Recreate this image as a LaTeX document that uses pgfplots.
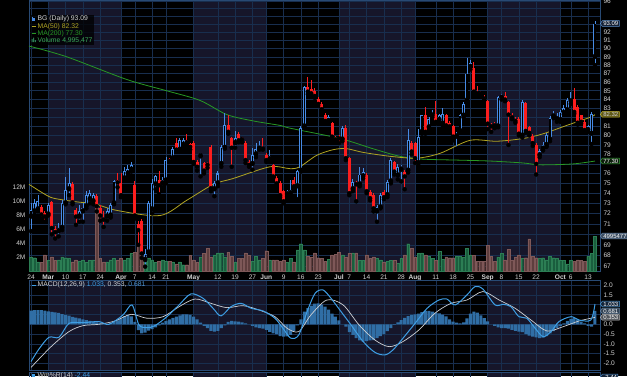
\documentclass[border=0pt]{standalone}
\usepackage{pgfplots}
\pgfplotsset{compat=1.18}
\usepackage{pgfplotstable}
\usepackage{fontspec}
\setmainfont{Liberation Sans}
\usetikzlibrary{shapes.symbols}

\definecolor{bgband}{RGB}{22,22,42}
\definecolor{gridc}{RGB}{24,46,78}
\definecolor{framec}{RGB}{40,74,116}
\definecolor{txt}{RGB}{210,210,210}
\definecolor{upc}{RGB}{70,138,228}
\definecolor{dnc}{RGB}{252,30,30}
\definecolor{volup}{RGB}{26,94,62}
\definecolor{volupe}{RGB}{44,126,84}
\definecolor{voldn}{RGB}{94,62,62}
\definecolor{voldne}{RGB}{126,88,88}
\definecolor{ma50c}{RGB}{176,164,34}
\definecolor{ma200c}{RGB}{40,152,36}
\definecolor{macdc}{RGB}{62,158,228}
\definecolor{sigc}{RGB}{205,208,212}
\definecolor{histc}{RGB}{48,110,165}
\definecolor{histl}{RGB}{80,150,210}

\pgfplotstableread{
i o h l c v
0 71.7 73.0 70.3 72.3 2.0
1 72.2 73.4 71.9 73.0 1.9
2 72.4 73.8 72.2 73.2 1.3
5 71.9 73.0 71.8 72.8 1.5
8 70.3 71.1 69.8 70.6 1.6
9 70.6 73.3 70.4 73.0 2.0
10 73.0 75.6 72.9 74.3 1.9
11 74.4 76.6 73.8 75.0 1.8
14 71.7 72.8 71.2 72.2 1.4
15 72.2 73.0 71.2 72.5 1.6
16 72.7 74.2 72.5 73.8 1.2
17 73.4 74.3 73.0 74.0 1.5
18 73.2 74.0 72.9 73.8 1.6
22 71.7 72.5 71.3 72.2 1.3
23 71.8 73.0 71.6 72.8 1.6
24 73.0 75.3 72.9 75.2 1.8
27 75.5 76.7 75.3 76.3 1.6
28 76.0 76.9 75.7 76.5 1.8
29 76.4 77.2 76.2 76.9 2.5
33 67.6 68.6 67.0 68.2 1.8
34 68.3 73.2 68.0 73.0 1.9
35 72.4 75.4 72.0 75.0 1.6
36 74.9 75.9 74.4 75.7 1.2
38 75.0 75.6 74.6 75.3 1.6
39 75.3 77.7 75.0 77.4 1.4
41 77.6 78.8 77.4 78.6 1.3
43 78.5 79.7 78.3 79.5 1.3
44 79.0 79.7 78.8 79.5 0.9
49 77.8 78.1 75.7 77.9 2.0
53 74.4 75.2 73.7 75.0 2.3
54 75.0 76.3 74.7 76.0 2.6
55 77.0 79.0 76.7 78.8 2.6
56 78.7 82.5 78.6 81.1 2.0
59 79.2 80.5 78.7 79.7 1.3
64 77.0 78.7 76.4 77.9 1.4
65 78.0 79.2 77.7 78.6 2.1
66 78.6 79.4 78.5 78.8 1.6
69 77.5 78.5 77.2 77.8 1.6
74 73.9 74.3 73.7 74.2 1.2
75 74.0 75.3 73.8 74.3 1.8
77 74.7 76.4 73.4 76.3 3.0
78 76.3 81.0 76.2 80.8 3.9
79 81.0 85.6 80.8 85.4 3.0
86 81.6 82.2 81.5 82.0 1.7
90 79.6 81.0 79.4 80.8 2.3
93 74.4 75.4 74.2 75.1 2.6
95 74.9 76.7 74.7 75.9 1.5
96 75.7 76.6 75.5 76.2 1.5
100 72.2 72.8 71.2 72.6 1.8
101 72.6 74.0 72.5 73.8 1.6
103 73.8 75.3 73.6 75.1 1.4
104 75.2 77.6 75.0 77.4 1.5
106 75.8 77.0 75.4 76.7 1.1
107 76.4 76.9 75.2 76.7 1.8
109 76.3 80.7 76.1 79.5 3.9
112 77.1 80.7 76.8 79.9 2.5
113 80.4 82.3 80.2 82.2 2.6
115 80.9 82.0 80.6 81.8 2.1
116 82.2 82.8 82.0 82.5 1.8
118 81.7 82.4 81.5 82.2 2.8
119 81.3 83.0 81.1 82.4 1.7
123 79.9 80.4 78.6 80.2 2.1
124 80.5 82.4 80.3 82.2 2.1
125 82.2 83.7 82.0 83.5 2.0
126 83.9 88.8 83.7 87.0 3.2
127 87.8 88.6 87.5 88.2 2.3
135 81.0 84.4 80.9 84.3 2.0
136 84.2 84.6 84.0 84.3 2.5
142 80.0 83.9 79.8 83.7 1.8
147 77.9 78.6 77.7 78.4 1.8
148 78.6 79.3 78.4 79.0 1.9
149 79.0 80.3 78.8 80.1 1.6
150 79.6 82.1 79.4 81.9 2.1
151 82.1 82.7 81.9 82.4 1.9
152 81.8 82.5 81.5 82.0 1.8
153 81.7 82.8 81.5 82.6 1.5
154 82.5 83.4 82.3 83.0 1.5
155 82.8 84.2 82.6 83.9 1.0
156 83.8 84.8 83.5 84.1 1.5
161 80.6 81.2 80.4 81.0 2.1
162 80.2 82.6 79.1 82.4 2.5
163 89.0 93.4 88.0 93.09 4.995
}\upT

\pgfplotstableread{
i o h l c v
3 72.6 72.8 71.5 71.9 1.2
4 72.0 72.2 71.2 71.7 2.3
6 73.1 73.2 70.0 70.6 2.0
7 70.5 70.8 69.6 70.2 1.5
12 74.9 75.1 72.9 73.1 1.3
13 72.3 72.5 70.9 71.7 1.6
19 73.7 73.9 72.2 72.7 9.1
20 72.5 72.8 71.3 71.8 1.8
21 71.5 72.2 70.7 71.4 1.3
25 75.3 76.0 74.6 75.1 1.5
26 75.0 76.0 73.6 73.8 1.8
30 74.8 75.2 71.5 71.8 2.7
31 71.0 71.3 69.0 70.4 3.9
32 71.3 71.5 67.8 68.2 2.1
37 75.3 76.3 73.9 74.8 1.4
40 77.5 77.6 77.2 77.3 1.4
42 79.2 79.7 78.3 78.5 1.0
45 79.5 80.2 79.0 79.3 0.9
46 79.1 79.2 78.5 78.8 2.2
47 79.2 79.4 77.0 77.2 1.6
48 77.2 77.4 76.3 76.7 1.2
50 77.1 77.2 76.0 76.3 2.5
51 77.0 77.2 76.6 76.9 3.2
52 78.8 79.0 74.2 74.5 2.0
57 81.1 82.2 80.2 80.4 2.7
58 79.7 79.9 76.7 78.7 2.1
60 80.2 80.4 79.3 79.5 1.8
61 79.8 79.9 79.3 79.6 1.8
62 79.2 79.4 77.1 77.4 2.6
63 77.2 77.4 76.7 76.9 2.2
67 78.8 79.7 78.5 78.6 1.8
68 77.9 78.1 77.2 77.4 2.9
70 76.9 77.0 75.5 75.7 1.6
71 75.5 75.7 74.8 75.0 1.6
72 75.0 75.2 73.6 73.8 1.4
73 74.2 74.3 73.0 73.2 1.6
76 75.3 75.6 74.5 74.7 1.3
80 85.4 86.6 84.6 84.9 2.1
81 85.2 86.2 84.5 84.7 2.0
82 85.0 85.3 84.2 84.4 2.6
83 84.1 84.3 83.3 83.5 1.9
84 83.5 83.7 82.6 82.9 1.8
85 82.3 82.5 81.3 81.6 1.4
87 81.4 81.5 79.6 79.9 2.3
88 79.8 80.0 79.3 79.6 2.4
89 79.8 80.1 79.2 79.7 2.7
91 80.8 81.1 77.4 77.6 2.0
92 77.6 77.7 73.8 74.0 2.5
94 75.0 75.2 73.2 74.9 2.6
97 75.9 76.0 74.0 74.2 2.3
98 74.1 74.3 73.3 73.5 1.8
99 73.8 74.0 72.2 72.5 2.0
102 74.1 74.3 73.4 73.6 1.3
105 77.2 77.3 75.9 76.2 1.5
108 76.2 76.4 74.4 75.7 2.3
110 79.2 79.4 78.0 78.3 3.2
111 79.2 79.3 77.1 77.6 2.0
114 82.2 83.2 80.2 80.4 2.3
117 82.4 83.8 81.3 81.5 1.5
120 82.2 82.4 80.9 81.1 2.0
121 81.4 81.6 80.8 81.0 1.9
122 81.0 81.1 79.5 79.9 1.9
128 87.6 88.4 84.7 84.9 2.2
129 84.8 85.5 84.4 84.7 1.4
130 84.9 85.0 84.4 84.7 1.4
131 84.3 84.5 83.9 84.1 1.4
132 83.8 84.0 80.7 81.3 3.7
133 81.2 81.4 80.4 81.0 2.1
134 81.3 81.5 80.8 81.1 1.4
137 84.4 84.8 83.8 84.0 1.6
138 83.7 83.8 79.0 82.3 3.1
139 82.2 82.5 81.8 82.0 1.5
140 81.8 82.0 81.4 81.6 2.0
141 81.8 82.0 80.0 80.2 2.3
143 83.6 83.7 80.3 80.5 1.9
144 80.9 81.0 80.0 80.3 4.6
145 80.0 80.2 78.9 79.2 2.1
146 79.0 79.2 75.9 77.0 1.9
157 84.1 85.3 82.4 82.6 1.4
158 83.2 83.4 81.2 81.4 1.6
159 82.2 82.3 81.3 81.5 1.5
160 81.5 81.7 80.4 80.6 1.4
}\dnT

\pgfplotstableread{
i v
0 0.70
1 0.73
2 0.73
3 0.72
4 0.70
5 0.66
6 0.63
7 0.61
8 0.58
9 0.52
10 0.48
11 0.44
12 0.38
13 0.34
14 0.30
15 0.25
16 0.22
17 0.18
18 0.14
19 0.10
20 0.07
21 0.03
22 0.00
23 0.05
24 0.12
25 0.20
26 0.30
27 0.42
28 0.48
29 0.40
30 0.12
31 -0.30
32 -0.46
33 -0.42
34 -0.32
35 -0.25
36 -0.15
37 -0.05
38 0.08
39 0.17
40 0.25
41 0.33
42 0.39
43 0.45
44 0.51
45 0.51
46 0.48
47 0.39
48 0.25
49 0.08
50 -0.08
51 -0.20
52 -0.33
53 -0.37
54 -0.33
55 -0.20
56 -0.05
57 0.12
58 0.17
59 0.15
60 0.14
61 0.10
62 0.05
63 0.00
64 -0.08
65 -0.15
66 -0.20
67 -0.22
68 -0.28
69 -0.38
70 -0.46
71 -0.50
72 -0.60
73 -0.63
74 -0.62
75 -0.54
76 -0.35
77 -0.05
78 0.25
79 0.65
80 0.82
81 0.95
82 1.05
83 1.07
84 1.00
85 0.90
86 0.75
87 0.55
88 0.39
89 0.20
90 0.00
91 -0.12
92 -0.40
93 -0.54
94 -0.70
95 -0.82
96 -0.88
97 -0.86
98 -0.82
99 -0.80
100 -0.70
101 -0.60
102 -0.50
103 -0.35
104 -0.20
105 -0.03
106 0.10
107 0.22
108 0.33
109 0.42
110 0.48
111 0.51
112 0.55
113 0.62
114 0.68
115 0.68
116 0.65
117 0.60
118 0.56
119 0.50
120 0.40
121 0.25
122 0.14
123 0.08
124 0.05
125 0.10
126 0.30
127 0.55
128 0.65
129 0.60
130 0.45
131 0.31
132 0.15
133 0.00
134 -0.08
135 -0.15
136 -0.20
137 -0.20
138 -0.22
139 -0.28
140 -0.33
141 -0.37
142 -0.40
143 -0.50
144 -0.58
145 -0.63
146 -0.66
147 -0.71
148 -0.68
149 -0.60
150 -0.46
151 -0.35
152 -0.20
153 -0.08
154 0.05
155 0.18
156 0.28
157 0.31
158 0.25
159 0.14
160 0.05
161 -0.08
162 -0.12
163 0.68
}\histT

\tikzset{
  badge/.style={signal, signal to=west, signal pointer angle=110, line width=0.5pt,
    inner sep=0.7pt, inner xsep=1pt, font=\fontsize{6}{6.5}\selectfont, anchor=west},
}
\pgfplotsset{
  base/.style={scale only axis, width=571pt, xmin=-0.58, xmax=164.45,
    anchor=south west, tick style={draw=none}, major tick length=0pt,
    tick label style={font=\fontsize{6.6}{7}\selectfont, text=txt},
    axis line style={framec, line width=0.6pt}},
  wk/.style={xtick={0,5,10,15,20,26,30,35,39,47,54,59,64,68,73,78,83,89,92,97,102,107,111,117,122,127,132,136,141,146,153,156,161}},
  errw/.style={only marks, mark=none, forget plot,
    error bars/.cd, y dir=plus, y explicit, error mark=none},
}

\begin{document}
\begin{tikzpicture}
\useasboundingbox (0,0) rectangle (627pt,376pt);
\fill[black] (0,0) rectangle (627pt,376pt);

% ---- main panel: bands + grid + price labels
\begin{axis}[base, wk, at={(29pt,105pt)}, height=271pt,
  ymode=log, ymin=66.61, ymax=96.11,
  ytick={67,68,69,70,71,72,73,74,75,76,77,78,79,80,81,82,83,84,85,86,87,88,89,90,91,92,93,94,95,96},
  yticklabels={67,68,69,{},71,72,73,74,75,76,{},78,79,80,81,{},83,84,85,86,87,88,89,90,91,92,{},{},{},96},
  yticklabel pos=right,
  xticklabels={24,\textbf{Mar},10,17,24,\textbf{Apr},7,14,21,\textbf{May},12,19,27,\textbf{Jun},9,16,23,\textbf{Jul},7,14,21,28,\textbf{Aug},11,18,25,\textbf{Sep},8,15,22,\textbf{Oct},6,13},
  grid=major, major grid style={gridc, line width=0.5pt}, axis on top]
  \fill[bgband] (axis cs:5,60) rectangle (axis cs:26,100);
  \fill[bgband] (axis cs:47,60) rectangle (axis cs:68,100);
  \fill[bgband] (axis cs:89,60) rectangle (axis cs:111,100);
  \fill[bgband] (axis cs:132,60) rectangle (axis cs:153,100);
\end{axis}

% ---- volume
\begin{axis}[base, at={(29pt,105pt)}, height=271pt, ymin=0, ymax=38.7,
  xtick=\empty, ytick={2,4,6,8,10,12}, yticklabels={2M,4M,6M,8M,10M,12M},
  yticklabel pos=left, axis line style={draw=none}, clip=false]
  \addplot[ybar, bar width=2.8pt, bar shift=0pt, fill=volup, draw=volupe, line width=0.3pt] table[x=i,y=v]{\upT};
  \addplot[ybar, bar width=2.8pt, bar shift=0pt, fill=voldn, draw=voldne, line width=0.3pt] table[x=i,y=v]{\dnT};
  \node[badge, draw={rgb,255:red,110;green,140;blue,175}, fill={rgb,255:red,60;green,78;blue,98}, text=white] at (axis cs:164.45,4.995) {4995477};
\end{axis}

% ---- candles and moving averages
\begin{axis}[base, at={(29pt,105pt)}, height=271pt,
  ymode=log, ymin=66.61, ymax=96.11, hide axis, clip=false]
  \addplot[ma200c, line width=0.8pt, smooth] coordinates {(-0.58,90.3) (10.3,89.0) (27.7,86.3) (39.2,85.0) (48.8,83.9) (56.6,82.3) (64.2,81.6) (72,81.1) (74.9,80.8) (89.3,79.7) (98.8,78.6) (106.6,77.8) (113.3,77.5) (123.1,77.4) (132.7,77.3) (142.2,77.1) (147.1,76.9) (156.6,77.0) (163,77.3)};
  \addplot[ma50c, line width=0.8pt, smooth] coordinates {(-0.58,74.9) (5,73.7) (8,73.4) (14.2,73.1) (18,73.0) (24.8,72.3) (37.3,71.8) (45,73.3) (52.7,74.9) (58.5,75.5) (69.1,76.7) (74.9,76.5) (77.7,76.7) (82.6,77.9) (87.4,78.5) (91.2,78.6) (96,78.2) (103.8,77.8) (111.5,77.6) (118.2,78.1) (126.9,79.5) (134.6,79.4) (142.3,79.7) (148.1,80.2) (154.8,81.1) (161.6,82.0) (163,82.3)};
  % wicks
  \addplot[errw, error bar style={upc, line width=0.8pt}]
    table[x=i, y=l, y error plus expr=\thisrow{h}-\thisrow{l}]{\upT};
  \addplot[errw, error bar style={dnc, line width=0.8pt}]
    table[x=i, y=l, y error plus expr=\thisrow{h}-\thisrow{l}]{\dnT};
  % bodies
  \addplot[errw, error bar style={upc, line width=3.0pt, line cap=butt}]
    table[x=i, y expr={min(\thisrow{o},\thisrow{c})}, y error plus expr={max(abs(\thisrow{c}-\thisrow{o}),0.1)}]{\upT};
  \addplot[errw, error bar style={black, line width=1.1pt, line cap=butt}]
    table[x=i, y expr={min(\thisrow{o},\thisrow{c})+0.1}, y error plus expr={max(abs(\thisrow{c}-\thisrow{o})-0.2,0)}]{\upT};
  \addplot[errw, error bar style={dnc, line width=3.0pt, line cap=butt}]
    table[x=i, y expr={min(\thisrow{o},\thisrow{c})}, y error plus expr={max(abs(\thisrow{c}-\thisrow{o}),0.1)}]{\dnT};
  % value badges
  \node[badge, draw={rgb,255:red,90;green,140;blue,200}, fill={rgb,255:red,22;green,34;blue,54}, text=white] at (axis cs:164.45,93.09) {93.09};
  \node[badge, draw={rgb,255:red,200;green,185;blue,50}, fill={rgb,255:red,95;green,88;blue,24}, text=txt] at (axis cs:164.45,82.32) {82.32};
  \node[badge, draw={rgb,255:red,60;green,170;blue,60}, fill={rgb,255:red,12;green,30;blue,12}, text=white] at (axis cs:164.45,77.30) {77.30};
\end{axis}

% ---- MACD panel: bands + grid
\begin{axis}[base, wk, at={(29pt,6pt)}, height=90pt, ymin=-2.33, ymax=2.26,
  ytick={-2,-1.5,-1,-0.5,0,0.5,1,1.5,2},
  yticklabels={-2.0,-1.5,-1.0,-0.5,0.0,{},{},1.5,2.0},
  yticklabel pos=right, xticklabels={},
  grid=major, major grid style={gridc, line width=0.5pt}, axis on top]
  \fill[bgband] (axis cs:5,-5) rectangle (axis cs:26,5);
  \fill[bgband] (axis cs:47,-5) rectangle (axis cs:68,5);
  \fill[bgband] (axis cs:89,-5) rectangle (axis cs:111,5);
  \fill[bgband] (axis cs:132,-5) rectangle (axis cs:153,5);
\end{axis}

% ---- MACD data
\begin{axis}[base, at={(29pt,6pt)}, height=90pt, ymin=-2.33, ymax=2.26, hide axis, clip=false]
  \addplot[ybar, bar width=3.0pt, bar shift=0pt, fill=histc, draw=none] table[x=i,y=v]{\histT};
  \addplot[sigc, line width=0.7pt, smooth] coordinates {(0,-2.2) (5.8,-1.14) (11,-0.37) (15,-0.07) (19.6,0.0) (24.3,0.17) (28.9,0.51) (33.5,0.31) (38.2,0.39) (42.8,0.9) (47.4,1.29) (52,1.07) (56.6,0.85) (61.3,0.95) (65.9,0.73) (70.5,0.39) (74,-0.2) (77.4,-0.37) (80.9,0.48) (85.5,1.24) (90.2,0.99) (94.8,-0.03) (99.4,-0.8) (103.5,-1.14) (107.5,-0.88) (112.1,-0.29) (116.7,0.56) (121.4,1.07) (126,1.24) (130.6,1.67) (135.3,1.24) (139.9,0.82) (144.5,0.22) (149.1,-0.34) (153.8,-0.12) (158.4,0.17) (163,0.353)};
  \addplot[macdc, line width=1pt, smooth] coordinates {(0,-1.9) (2.3,-1.26) (5.2,-0.66) (8.1,-0.66) (11,0.05) (15,0.08) (19.6,0.14) (22.5,0.0) (26.6,0.48) (29.2,0.99) (31.2,-0.03) (33.5,-0.17) (35.8,-0.07) (39.3,0.39) (42.8,0.99) (46.2,1.55) (49.7,1.33) (52.6,0.82) (54.9,0.43) (57.8,0.9) (60.7,1.07) (63.6,0.82) (67.1,0.68) (70.5,0.31) (72.8,-0.2) (75.1,-0.71) (77.4,-0.54) (79.8,0.65) (82.1,1.58) (84.4,1.75) (86.7,1.33) (89.6,0.65) (92.5,-0.03) (96,-0.88) (99.4,-1.43) (102.3,-1.56) (104.6,-1.31) (107.5,-0.71) (111,0.05) (114.5,0.82) (117.9,1.24) (120.2,1.29) (122.6,0.99) (126,1.5) (128.3,1.92) (130.6,1.8) (134.1,0.99) (136.4,1.02) (138.7,0.9) (141,0.39) (143.3,0.31) (145.7,-0.2) (148,-0.63) (150.3,-0.37) (152.6,0.14) (156.1,0.39) (158.4,0.22) (161.8,0.22) (163,1.033)};
  \node[badge, draw={rgb,255:red,80;green,160;blue,220}, fill={rgb,255:red,20;green,36;blue,56}, text=white] at (axis cs:164.45,1.033) {1.033};
  \node[badge, draw={rgb,255:red,110;green,140;blue,170}, fill={rgb,255:red,50;green,66;blue,84}, text=white] at (axis cs:164.45,0.681) {0.681};
  \node[badge, draw={rgb,255:red,190;green,190;blue,190}, fill={rgb,255:red,80;green,84;blue,90}, text=white] at (axis cs:164.45,0.353) {0.353};
\end{axis}

% ---- Williams %R panel (mostly cropped)
\begin{axis}[base, wk, at={(29pt,4pt)}, anchor=north west, height=60pt, ymin=0, ymax=1,
  ytick=\empty, xticklabels={}, grid=major, major grid style={gridc, line width=0.5pt}, axis on top]
  \fill[bgband] (axis cs:5,-1) rectangle (axis cs:26,2);
  \fill[bgband] (axis cs:47,-1) rectangle (axis cs:68,2);
  \fill[bgband] (axis cs:89,-1) rectangle (axis cs:111,2);
  \fill[bgband] (axis cs:132,-1) rectangle (axis cs:153,2);
\end{axis}
\node[badge, draw={rgb,255:red,80;green,140;blue,200}, fill={rgb,255:red,20;green,36;blue,56}, text=white] at (600pt,-1pt) {-2.44};

% ---- legends
\fill[black, opacity=0.75] (30pt,331pt) rectangle (94pt,361pt);
\begin{scope}[every node/.style={font=\fontsize{6.8}{7.5}\selectfont, anchor=west, inner sep=0pt}]
  \draw[upc, line width=0.4pt] (32pt,355pt) -- (32pt,359pt);
  \fill[upc] (33pt,355.5pt) rectangle (35pt,358.5pt);
  \node[text=txt] at (37.5pt,357pt) {BG (Daily) 93.09};
  \draw[ma50c, line width=1pt] (31.5pt,349.7pt) -- (36pt,349.7pt);
  \node[text=ma50c] at (37.5pt,349.7pt) {MA(50) 82.32};
  \draw[ma200c, line width=1pt] (31.5pt,342.7pt) -- (36pt,342.7pt);
  \node[text=ma200c] at (37.5pt,342.7pt) {MA(200) 77.30};
  \fill[volupe] (31.5pt,334pt) rectangle (32.5pt,337pt) (33.2pt,334pt) rectangle (34.2pt,338.5pt) (34.9pt,334pt) rectangle (35.9pt,336pt);
  \node[text={rgb,255:red,60;green,170;blue,90}] at (37.5pt,336pt) {Volume 4,995,477};

  \draw[macdc, line width=1pt] (31.5pt,91pt) -- (35.5pt,91pt);
  \node[text=txt] at (37.5pt,91pt) {MACD(12,26,9) \textcolor{macdc}{1.033}, \textcolor{sigc}{0.353}, \textcolor{histl}{0.681}};

  \fill[macdc] (31.5pt,-1pt) rectangle (35pt,2.5pt);
  \node[text=txt] at (37.5pt,0.5pt) {Wm\%R(14) \textcolor{macdc}{-2.44}};
\end{scope}
\end{tikzpicture}
\end{document}
